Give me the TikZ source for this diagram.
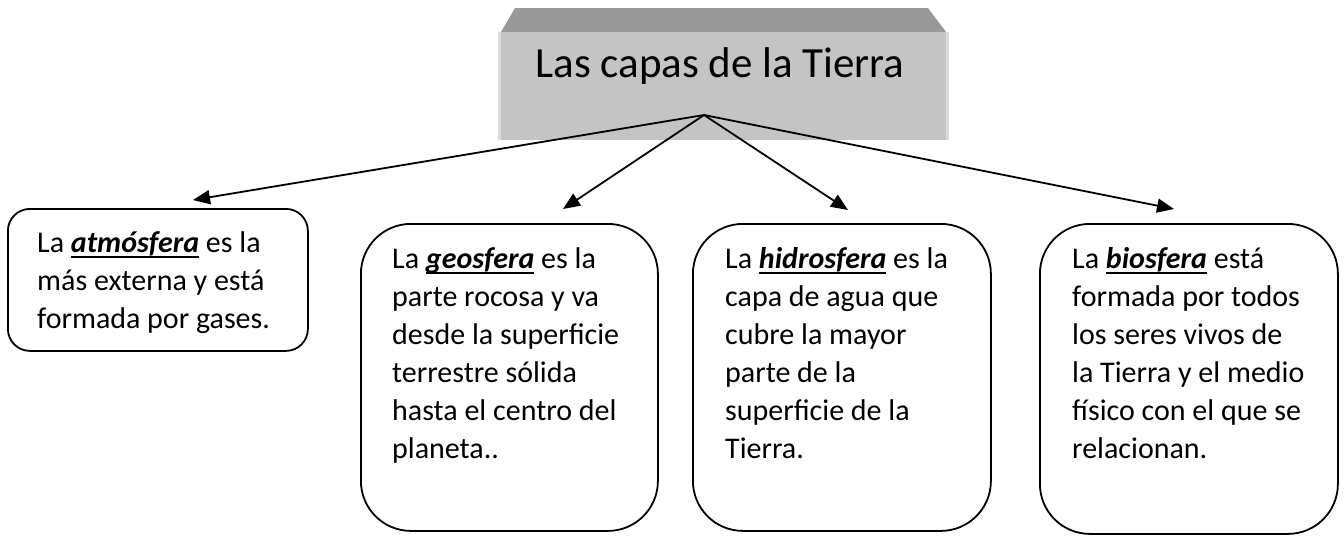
\documentclass[tikz,border=0pt]{standalone}
\usepackage{fontspec}
\setmainfont{Carlito}
\usetikzlibrary{arrows.meta}
\newcommand\kw[1]{\setbox0=\hbox{\bfseries\itshape #1}\rlap{\vrule width\wd0 height -3.5pt depth 5.5pt}\box0\relax}
\tikzset{
  rbox/.style={draw=black, line width=1.8pt, fill=white},
  btext/.style={font=\fontsize{30}{38}\selectfont, align=left, inner sep=0pt, anchor=base west},
  conn/.style={line width=1.8pt, -{Triangle[length=17pt,width=14pt]}},
}
\begin{document}
\begin{tikzpicture}[x=1pt,y=-1pt]
\useasboundingbox (0,0) rectangle (1344,536);
% title block
\fill[black!14] (498,32) rectangle (949,140);
\fill[black!40] (501,32) -- (515,8) -- (928,8) -- (946,32) -- cycle;
\fill[black!23] (501,32) rectangle (946,140);
\node[font=\fontsize{43}{50}\selectfont, inner sep=0pt, anchor=base] (title) at (720,77) {Las capas de la Tierra};
\coordinate (apex) at (704,115);
% boxes
\node[rbox, rounded corners=22pt, minimum width=300pt, minimum height=142pt, anchor=north west] (atm) at (7,208) {};
\node[rbox, rounded corners=50pt, minimum width=297pt, minimum height=307pt, anchor=north west] (geo) at (360,223) {};
\node[rbox, rounded corners=50pt, minimum width=298pt, minimum height=307pt, anchor=north west] (hid) at (692,223) {};
\node[rbox, rounded corners=50pt, minimum width=298pt, minimum height=310pt, anchor=north west] (bio) at (1039,223) {};
% texts (anchored at the baseline of their last line)
\node[btext] (tatm) at (37,328) {La \kw{atmósfera} es la\\más externa y está\\formada por gases.};
\node[btext] (tgeo) at (392,458) {La \kw{geosfera} es la\\parte rocosa y va\\desde la superficie\\terrestre sólida\\hasta el centro del\\planeta..};
\node[btext] (thid) at (725,458) {La \kw{hidrosfera} es la\\capa de agua que\\cubre la mayor\\parte de la\\superficie de la\\Tierra.};
\node[btext] (tbio) at (1072,458) {La \kw{biosfera} está\\formada por todos\\los seres vivos de\\la Tierra y el medio\\físico con el que se\\relacionan.};
% arrow tips
\coordinate (ta) at (193,200);
\coordinate (tg) at (563,209);
\coordinate (th) at (848,210);
\coordinate (tb) at (1174,209);
\draw[conn] (apex) -- (ta);
\draw[conn] (apex) -- (tg);
\draw[conn] (apex) -- (th);
\draw[conn] (apex) -- (tb);
\end{tikzpicture}
\end{document}
